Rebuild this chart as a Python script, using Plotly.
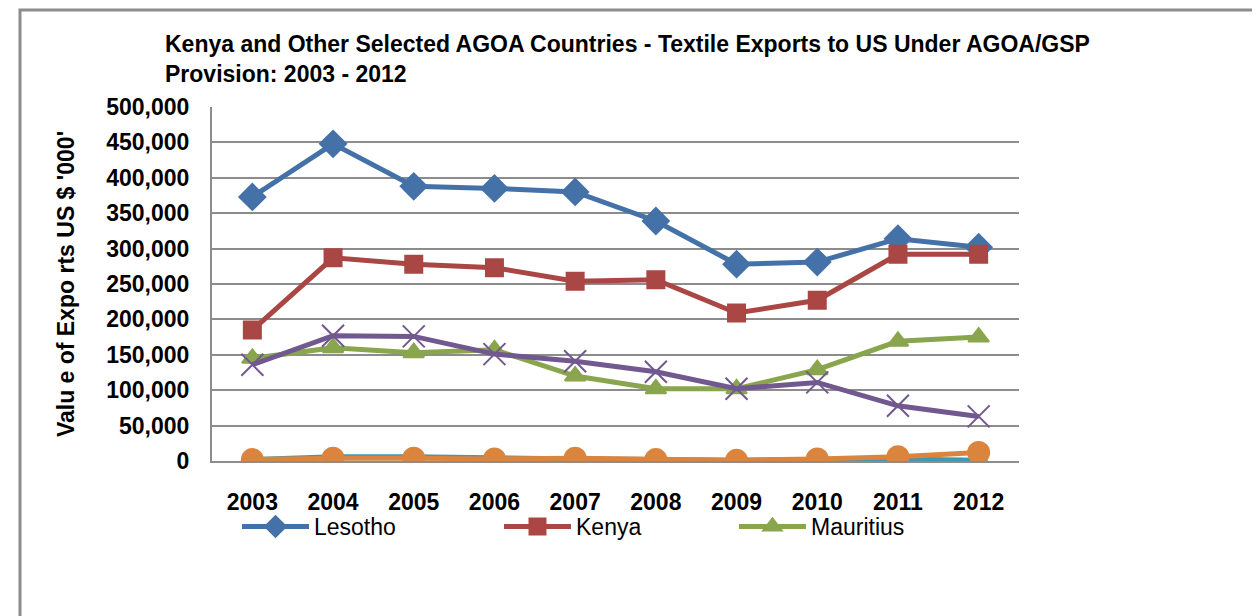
import plotly.graph_objects as go

years = ["2003", "2004", "2005", "2006", "2007", "2008", "2009", "2010", "2011", "2012"]
lesotho = [373000, 448000, 388000, 385000, 380000, 339000, 278000, 281000, 314000, 302000]
kenya = [185000, 287000, 278000, 273000, 254000, 256000, 209000, 227000, 292000, 292000]
mauritius = [145000, 160000, 153000, 157000, 120000, 102000, 102000, 129000, 169000, 175000]
series4 = [136000, 177000, 176000, 151000, 141000, 126000, 102000, 111000, 78000, 63000]
series5 = [2000, 6000, 6000, 4000, 3000, 2000, 1000, 2000, 3000, 1000]
series6 = [2000, 4000, 4000, 3000, 4000, 2000, 1000, 3000, 6000, 12000]
y_ticks = [0, 50000, 100000, 150000, 200000, 250000, 300000, 350000, 400000, 450000, 500000]
y_tick_labels = ["0", "50,000", "100,000", "150,000", "200,000", "250,000", "300,000",
                 "350,000", "400,000", "450,000", "500,000"]

FONT = "Liberation Sans, Arial, sans-serif"

fig = go.Figure()
specs = [
    ("Lesotho", lesotho, "#4472A8", "diamond", 20, "legend"),
    ("Kenya", kenya, "#AA4643", "square", 17, "legend2"),
    ("Mauritius", mauritius, "#89A54E", "triangle-up", 18, "legend3"),
    ("Series 4", series4, "#71588F", "x-thin-open", 22, None),
    ("Series 5", series5, "#4198AF", "asterisk-open", 15, None),
    ("Series 6", series6, "#DB843D", "circle", 21, None),
]
for name, vals, col, sym, size, leg in specs:
    kw = dict(legend=leg, showlegend=True) if leg else dict(showlegend=False)
    fig.add_trace(go.Scatter(
        x=years, y=vals, name=name, mode="lines+markers",
        line=dict(color=col, width=5),
        marker=dict(symbol=sym, size=size, color=col, line=dict(color=col, width=2)),
        **kw,
    ))


def legend_at(xpx):
    return dict(
        orientation="h", x=xpx / 1260, xref="container", y=1 - 497 / 616, yref="container",
        xanchor="left", yanchor="top", itemwidth=67, bgcolor="rgba(0,0,0,0)",
        font=dict(size=23, family=FONT),
    )


fig.update_layout(
    width=1260, height=616,
    margin=dict(l=204, r=249, t=99, b=163, autoexpand=False),
    paper_bgcolor="white", plot_bgcolor="white",
    font=dict(family=FONT, color="black"),
    title=dict(
        text="Kenya and Other Selected AGOA Countries - Textile Exports to US Under AGOA/GSP<br>Provision: 2003 - 2012",
        x=157 / 1260, xanchor="left", xref="container",
        y=1 - 44 / 616, yanchor="top", yref="container",
        font=dict(family=FONT, size=23, color="black", weight="bold"),
    ),
    xaxis=dict(
        type="category", range=[-0.5, 9.5], showgrid=False, showline=True,
        linecolor="#8c8c8c", linewidth=2,
        tickfont=dict(size=23, family=FONT, weight="bold"),
        ticks="outside", ticklen=19, tickcolor="rgba(0,0,0,0)", automargin=False,
    ),
    yaxis=dict(
        range=[0, 500000], tickvals=y_ticks, ticktext=y_tick_labels,
        showgrid=True, gridcolor="#8c8c8c", gridwidth=2,
        showline=True, linecolor="#8c8c8c", linewidth=2, zeroline=False,
        tickfont=dict(size=23, family=FONT, weight="bold"),
        ticks="outside", ticklen=16, tickcolor="rgba(0,0,0,0)", automargin=False,
        title=dict(text="Valu e of Expo rts US $ '000'", standoff=25,
                   font=dict(size=23, family=FONT, weight="bold")),
    ),
    legend=legend_at(229),
    legend2=legend_at(491),
    legend3=legend_at(726),
    shapes=[dict(type="rect", xref="paper", yref="paper",
                 x0=-192 / 807, x1=(1255 - 212) / 807,
                 y0=-(616 - 461 + 10) / 354, y1=1 + 97 / 354,
                 line=dict(color="#8c8c8c", width=3))],
)

fig.write_html("out.html")
